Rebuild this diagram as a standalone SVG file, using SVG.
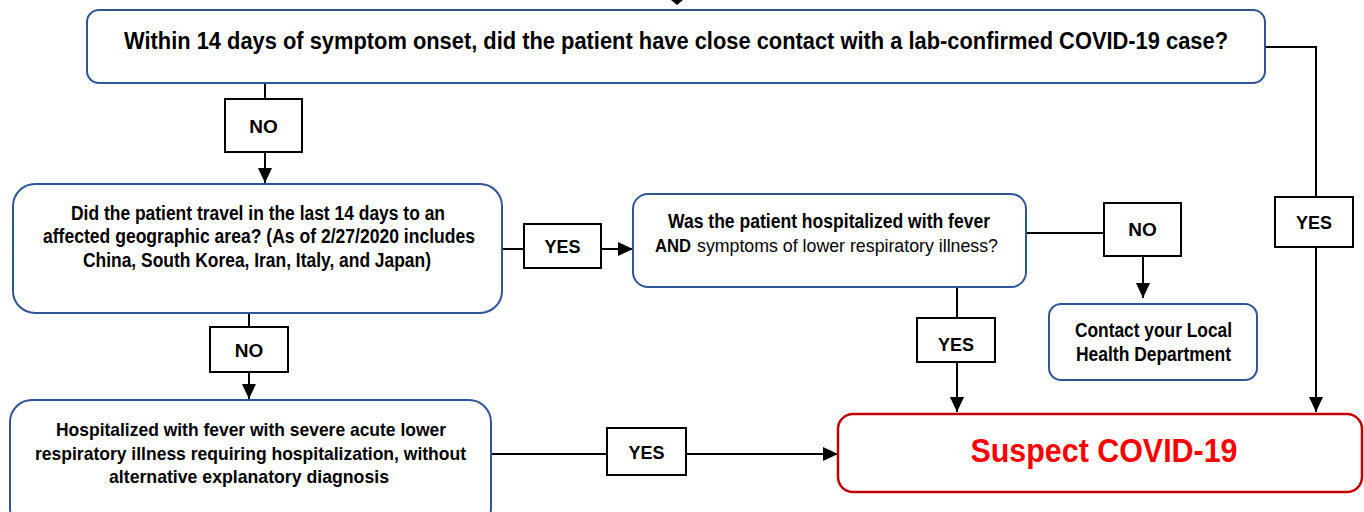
<svg xmlns="http://www.w3.org/2000/svg" width="1364" height="512" viewBox="0 0 1364 512">
<defs>
<style>
.node{fill:#fff;stroke:#2F5597;stroke-width:2}
.red{fill:#fff;stroke:#C00000;stroke-width:2.5}
.lbl{fill:#fff;stroke:#000;stroke-width:2}
.conn{fill:none;stroke:#000;stroke-width:2}
text{font-family:"Liberation Sans Narrow","Liberation Sans",Arial,sans-serif;font-weight:bold;fill:#000}
.t{text-anchor:middle;font-size:19.5px}
.lt{text-anchor:middle;font-size:19px}
.reg{font-weight:normal}
</style>
<marker id="ah" viewBox="0 0 15 14" refX="15" refY="7" markerWidth="7.5" markerHeight="7" markerUnits="strokeWidth" orient="auto">
<path d="M0,0 L15,7 L0,14 z" fill="#000"/>
</marker>
</defs>
<rect width="1364" height="512" fill="#fff"/>

<g id="connectors">
<polygon points="671,0 683,0 677,5" fill="#000"/>
<path class="conn" d="M265,84 V183" marker-end="url(#ah)"/>
<path class="conn" d="M503,249 H633" marker-end="url(#ah)"/>
<path class="conn" d="M1026,233 H1143 V298" marker-end="url(#ah)"/>
<path class="conn" d="M957,287 V412" marker-end="url(#ah)"/>
<path class="conn" d="M1265,47 H1316 V412" marker-end="url(#ah)"/>
<path class="conn" d="M249,314 V399" marker-end="url(#ah)"/>
<path class="conn" d="M492,454 H838" marker-end="url(#ah)"/>
<g id="label-no1"><rect class="lbl" x="225" y="99" width="77" height="53"/><text class="lt" x="263.5" y="133">NO</text></g>
<g id="label-yes1"><rect class="lbl" x="524" y="224" width="77" height="44"/><text class="lt" x="562.5" y="253" textLength="36" lengthAdjust="spacingAndGlyphs">YES</text></g>
<g id="label-no2"><rect class="lbl" x="1104" y="203" width="77" height="53"/><text class="lt" x="1142.5" y="236">NO</text></g>
<g id="label-yes2"><rect class="lbl" x="917" y="318" width="78" height="44"/><text class="lt" x="956" y="351" textLength="36" lengthAdjust="spacingAndGlyphs">YES</text></g>
<g id="label-yes3"><rect class="lbl" x="1275" y="197" width="78" height="50"/><text class="lt" x="1314" y="229" textLength="36" lengthAdjust="spacingAndGlyphs">YES</text></g>
<g id="label-no3"><rect class="lbl" x="210" y="327" width="78" height="45"/><text class="lt" x="249" y="357">NO</text></g>
<g id="label-yes4"><rect class="lbl" x="607" y="428" width="79" height="47"/><text class="lt" x="646.5" y="459" textLength="36" lengthAdjust="spacingAndGlyphs">YES</text></g>
</g>

<g id="node-contact-case">
<rect class="node" x="87" y="10" width="1178" height="73" rx="12"/>
<text class="t" style="font-size:23px" x="676" y="48.5" textLength="1104" lengthAdjust="spacingAndGlyphs">Within 14 days of symptom onset, did the patient have close contact with a lab-confirmed COVID-19 case?</text>
</g>

<g id="node-travel">
<rect class="node" x="13" y="184" width="489" height="129" rx="22"/>
<text class="t" x="258" y="219.5" textLength="374" lengthAdjust="spacingAndGlyphs">Did the patient travel in the last 14 days to an</text>
<text class="t" x="259" y="243" textLength="432" lengthAdjust="spacingAndGlyphs">affected geographic area? (As of 2/27/2020 includes</text>
<text class="t" x="257" y="266.5" textLength="348" lengthAdjust="spacingAndGlyphs">China, South Korea, Iran, Italy, and Japan)</text>
</g>

<g id="node-hospitalized">
<rect class="node" x="633" y="194" width="393" height="93" rx="15"/>
<text class="t" style="font-size:20px" x="829" y="227.5" textLength="322" lengthAdjust="spacingAndGlyphs">Was the patient hospitalized with fever</text>
<text style="font-size:19px" x="655" y="252" textLength="36" lengthAdjust="spacingAndGlyphs">AND</text>
<text class="reg" style="font-size:19px" x="697" y="252" textLength="301" lengthAdjust="spacingAndGlyphs">symptoms of lower respiratory illness?</text>
</g>

<g id="node-local-health">
<rect class="node" x="1049" y="304" width="208" height="76" rx="12"/>
<text class="t" style="font-size:20px" x="1153.5" y="336.5" textLength="157" lengthAdjust="spacingAndGlyphs">Contact your Local</text>
<text class="t" style="font-size:20px" x="1153.5" y="360.5" textLength="155" lengthAdjust="spacingAndGlyphs">Health Department</text>
</g>

<g id="node-severe">
<rect class="node" x="10" y="400" width="481" height="130" rx="22"/>
<text class="t" style="font-size:19px" x="251" y="435.5" textLength="390" lengthAdjust="spacingAndGlyphs">Hospitalized with fever with severe acute lower</text>
<text class="t" style="font-size:19px" x="250.5" y="459.5" textLength="431" lengthAdjust="spacingAndGlyphs">respiratory illness requiring hospitalization, without</text>
<text class="t" style="font-size:19px" x="249" y="483" textLength="280" lengthAdjust="spacingAndGlyphs">alternative explanatory diagnosis</text>
</g>

<g id="node-suspect">
<rect class="red" x="838" y="414" width="524" height="78" rx="15"/>
<text x="1104" y="462" style="font-size:34px;fill:#FF0000;text-anchor:middle" textLength="267" lengthAdjust="spacingAndGlyphs">Suspect COVID-19</text>
</g>
</svg>
